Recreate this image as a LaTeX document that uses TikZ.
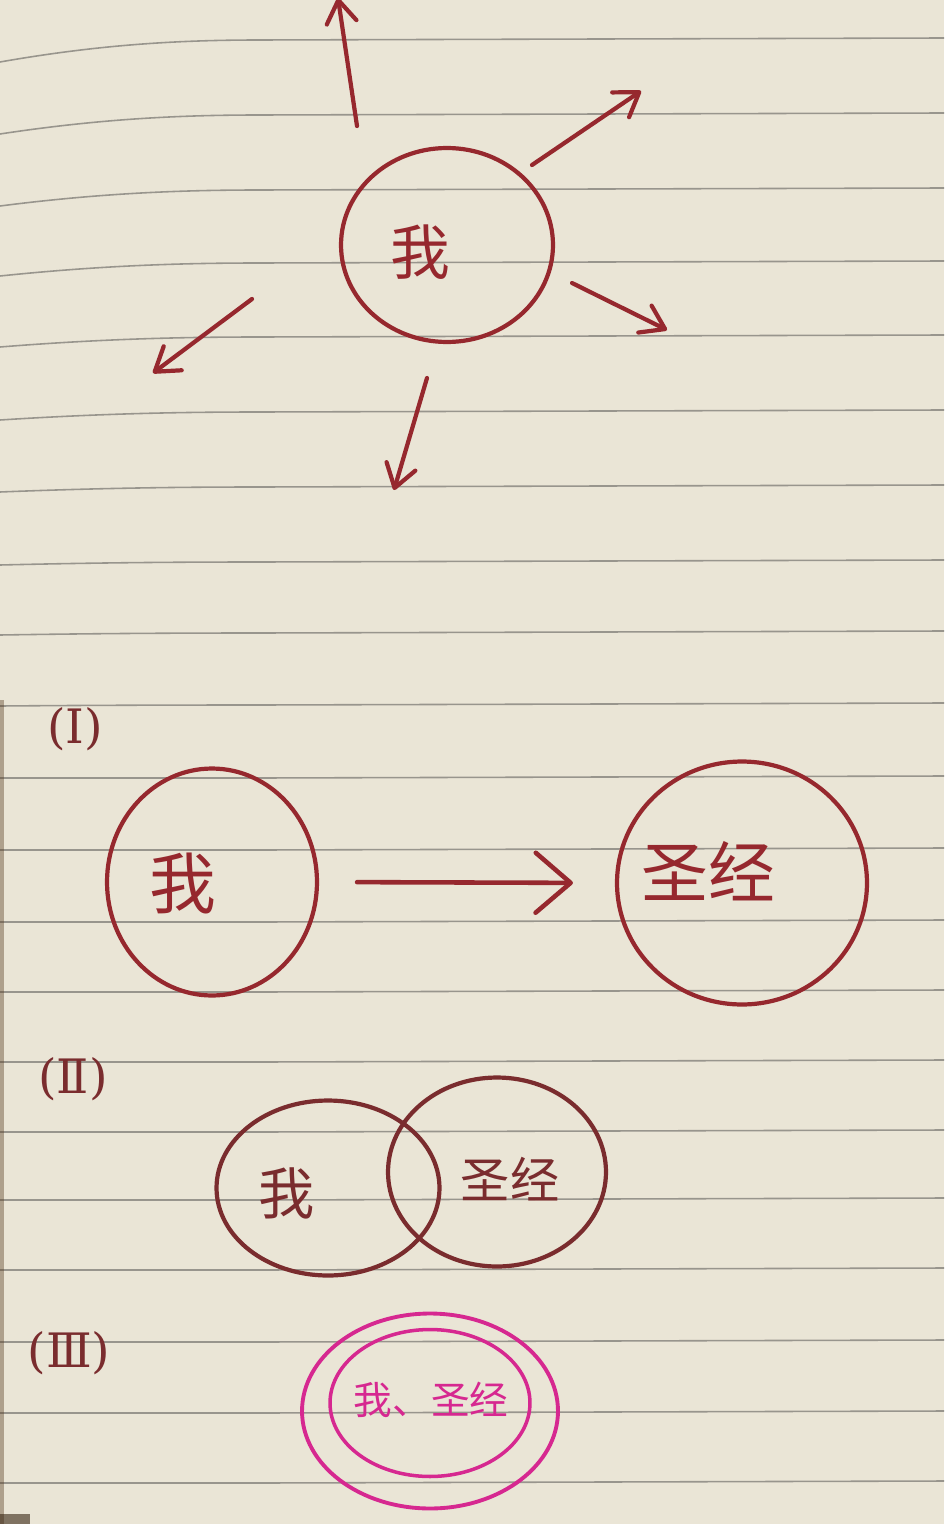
\documentclass[tikz,border=0pt]{standalone}
\usepackage{fontspec}
\newfontfamily\cjk{Noto Sans CJK SC}
\newfontfamily\numfont{DejaVu Serif}
\usepackage{xcolor}
\usetikzlibrary{arrows.meta, shapes.geometric}

\definecolor{paper}{RGB}{234,229,214}
\definecolor{rule}{RGB}{152,149,141}
\definecolor{ink}{RGB}{150,40,46}
\definecolor{inkdark}{RGB}{122,44,46}
\definecolor{pink}{RGB}{214,40,144}

\begin{document}
\begin{tikzpicture}[x=0.02cm, y=-0.02cm,
    ring/.style={draw=ink, ellipse, line width=2.4pt, inner sep=0pt},
    word/.style={font=\cjk\fontsize{#1}{#1}\selectfont, inner sep=0pt, text=ink},
    seclabel/.style={font=\numfont\fontsize{27}{27}\selectfont, inner sep=0pt, text=inkdark},
    arr/.style={draw=ink, line width=2.4pt, line cap=round,
      -{Straight Barb[length=4.5mm, width=6mm, round]}},
    bigarr/.style={draw=ink, line width=2.6pt, line cap=round,
      -{Straight Barb[length=7mm, width=12mm, round]}}]

      % paper
      \fill[paper] (0,0) rectangle (944,1524);
      \useasboundingbox (0,0) rectangle (944,1524);
      \foreach \y/\d in {40/22, 115/19, 190/16, 263/13, 337/10, 412/8, 487/5,
          562/3, 633/2, 705/1, 778/0, 850/0, 922/0, 992/0, 1062/0, 1132/0,
          1200/0, 1270/0, 1342/0, 1413/0, 1483/0}
        \draw[rule, line width=0.9pt] (0,\y+\d) .. controls (100,\y+\d*0.2) and (180,\y) .. (260,\y) -- (944,\y-2);
      \fill[black!55!brown, opacity=0.4] (0,700) rectangle (4,1524);
      \fill[black!70!brown, opacity=0.6] (0,1514) rectangle (30,1524);

      % me in the middle
      \node[ring, minimum width=4.24cm, minimum height=3.88cm] (me0) at (447,245) {};
      \node[word=34] (me0t) at (420,252) {我};

      \coordinate (s1) at (357,126); \coordinate (t1) at (338,-2);
      \coordinate (s2) at (532,165); \coordinate (t2) at (641,91);
      \coordinate (s3) at (572,283); \coordinate (t3) at (667,330);
      \coordinate (s4) at (427,378); \coordinate (t4) at (394,490);
      \coordinate (s5) at (252,299); \coordinate (t5) at (153,373);
      \foreach \i in {1,...,5}
        \draw[arr] (s\i) -- (t\i);

      % (I)
      \node[seclabel] (sec1) at (75,729) {(Ⅰ)};
      \node[ring, minimum width=4.2cm, minimum height=4.54cm] (me1) at (212,882) {};
      \node[word=38] (me1t) at (183,883) {我};
      \node[ring, minimum width=5cm, minimum height=4.86cm] (bible1) at (742,883) {};
      \node[word=38] (bible1t) at (708,871) {圣经};
      \draw[bigarr, shorten <=0.76cm, shorten >=0.84cm] (me1.east) -- (bible1.west);

      % (II)
      \node[seclabel] (sec2) at (73,1079) {(Ⅱ)};
      \node[ring, draw=inkdark, minimum width=4.46cm, minimum height=3.5cm] (me2) at (328,1188) {};
      \node[ring, draw=inkdark, minimum width=4.36cm, minimum height=3.78cm] (bible2) at (497,1172) {};
      \node[word=32, text=inkdark] (me2t) at (287,1193) {我};
      \node[word=28, text=inkdark] (bible2t) at (510,1179) {圣经};

      % (III)
      \node[seclabel] (sec3) at (69,1353) {(Ⅲ)};
      \node[ring, draw=pink, line width=2.2pt, minimum width=5.12cm, minimum height=3.9cm] (both) at (430,1411) {};
      \node[ring, draw=pink, line width=2pt, minimum width=4cm, minimum height=2.94cm] (bothin) at (430,1403) {};
      \node[word=22, text=pink] (botht) at (431,1400) {我、圣经};

\end{tikzpicture}
\end{document}
